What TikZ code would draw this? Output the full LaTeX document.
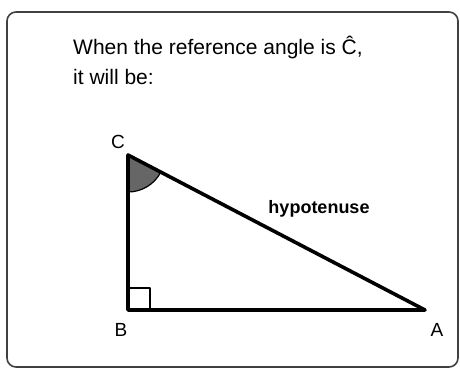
\documentclass[tikz,border=0pt]{standalone}
\usepackage{fontspec}
\setmainfont{Liberation Sans}
\usepackage{xcolor}
\usetikzlibrary{positioning}

\begin{document}
\begin{tikzpicture}[x=1pt, y=-1pt, line join=round]
  \useasboundingbox (0,0) rectangle (460,369);
  \tikzset{vertex/.style={font=\fontsize{19}{21}\selectfont, inner sep=0pt}}
  % frame
  \draw[line width=1.6pt, black!75, rounded corners=9pt] (7,12) rectangle (458,367);
  \node (intro) [anchor=north west, align=left, inner sep=0pt, font=\fontsize{21}{30}\selectfont] at (73,36) {When the reference angle is Ĉ,\\it will be:};

  \coordinate (C) at (128,155);
  \coordinate (B) at (128,310);
  \coordinate (A) at (425,310);

  % angle and right angle
  \fill[black!60] (C) -- ++(0,37) arc[start angle=90, end angle=27.6, radius=37] -- cycle;
  \draw[line width=1.2pt] (C) ++(0,37) arc[start angle=90, end angle=27.6, radius=37];
  \draw[line width=1.6pt] (128,288) -- (150,288) -- (150,310);
  \draw[line width=3.6pt, line cap=round] (C) -- (B) -- (A) -- cycle;

  \node (lc) [vertex] at (118,142) {C};
  \node (lb) [vertex] at (121,330) {B};
  \node (la) [vertex] at (437,330) {A};
  \node (hyp) [vertex, font=\bfseries\fontsize{18}{20}\selectfont] at (319,209) {hypotenuse};
\end{tikzpicture}
\end{document}
